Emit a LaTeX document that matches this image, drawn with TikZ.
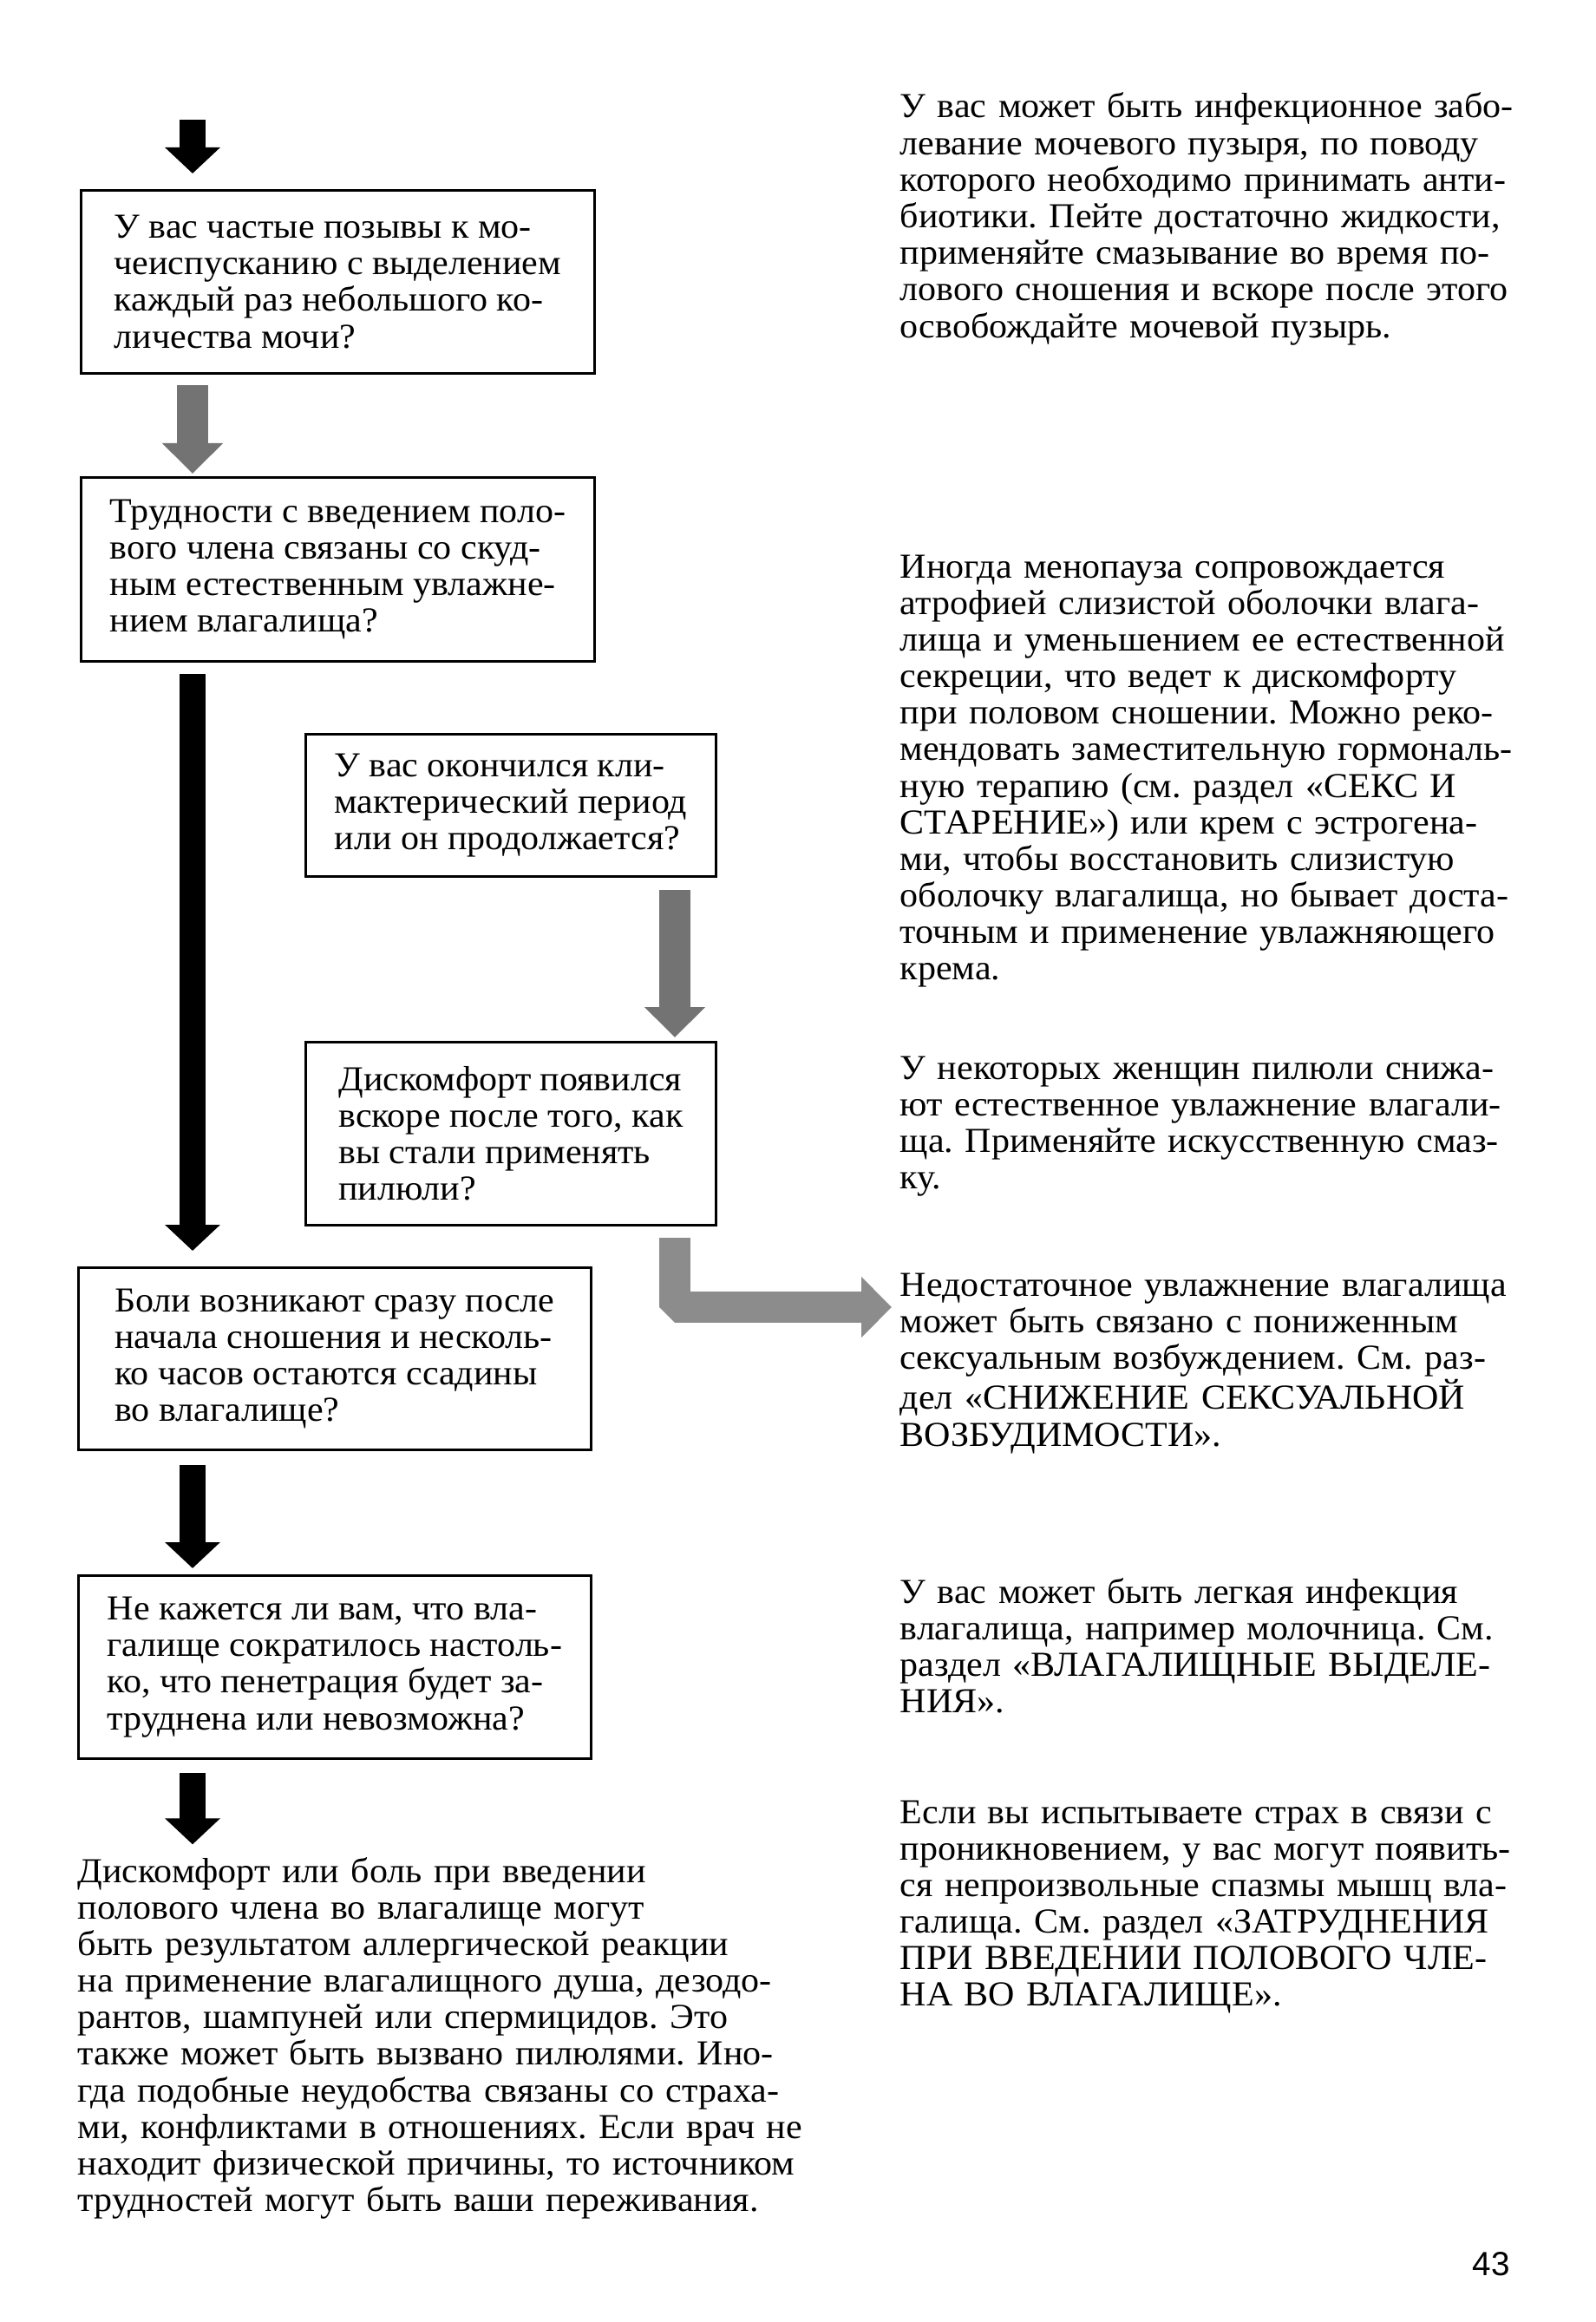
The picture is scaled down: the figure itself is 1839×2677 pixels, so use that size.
\documentclass[tikz,border=0pt]{standalone}
\usepackage{fontspec}
\setmainfont[FakeStretch=1.04]{Liberation Serif}
\newfontfamily\nomerfont{Liberation Sans}
\usepackage{tikz}
\usetikzlibrary{arrows.meta, calc}
\definecolor{seryjtemnyj}{RGB}{115, 115, 115}
\definecolor{seryjsvetlyj}{RGB}{140, 140, 140}
\frenchspacing

\tikzset{
  vopros/.style={draw, line width=0.8pt, anchor=north west, align=left, inner sep=0pt},
  otvet/.style={anchor=base west, inner sep=0pt, align=left, text width=80mm},
  chernaja/.style={line width=3mm, -{Triangle[width=6.2mm, length=3mm]}},
  seraja/.style={draw=seryjtemnyj, line width=3.6mm, -{Triangle[width=6.8mm, length=3.5mm]}},
}

\begin{document}
\begin{tikzpicture}[x=0.1mm, y=-0.1mm, font=\fontsize{11.5pt}{12pt}\selectfont]
  \useasboundingbox (0,0) rectangle (1839,2677);
  % оси стрелок
  \coordinate (os) at (222,0);
  \coordinate (os2) at (778,0);
  \coordinate (start) at (222,138);
  \coordinate (povorot) at (778,1507);

  % вопросы слева
  \node[vopros, minimum width=59.2mm, minimum height=21.1mm] (q1) at (92,218)
    {У вас частые позывы к мо-\\чеиспусканию с выделением\\каждый раз небольшого ко-\\личества мочи?};
  \node[vopros, minimum width=59.2mm, minimum height=21.2mm] (q2) at (92,549)
    {Трудности с введением поло-\\вого члена связаны со скуд-\\ным естественным увлажне-\\нием влагалища?};
  \node[vopros, minimum width=47.3mm, minimum height=16.4mm] (q3) at (351,845)
    {У вас окончился кли-\\мактерический период\\или он продолжается?};
  \node[vopros, minimum width=47.3mm, minimum height=21.1mm] (q4) at (351,1200)
    {Дискомфорт появился\\вскоре после того, как\\вы стали применять\\пилюли?};
  \node[vopros, minimum width=59.1mm, minimum height=21.0mm] (q5) at (89,1460)
    {Боли возникают сразу после\\начала сношения и несколь-\\ко часов остаются ссадины\\во влагалище?};
  \node[vopros, minimum width=59.1mm, minimum height=21.1mm] (q6) at (89,1815)
    {Не кажется ли вам, что вла-\\галище сократилось настоль-\\ко, что пенетрация будет за-\\труднена или невозможна?};
  \node[otvet, text width=95mm] (itog) at (89,2170)
    {Дискомфорт или боль при введении\\полового члена во влагалище могут\\быть результатом аллергической реакции\\на применение влагалищного душа, дезодо-\\рантов, шампуней или спермицидов. Это\\также может быть вызвано пилюлями. Ино-\\гда подобные неудобства связаны со страха-\\ми, конфликтами в отношениях. Если врач не\\находит физической причины, то источником\\трудностей могут быть ваши переживания.};

  % ответы справа
  \node[otvet] (ansA) at (1037,136)
    {У вас может быть инфекционное забо-\\левание мочевого пузыря, по поводу\\которого необходимо принимать анти-\\биотики. Пейте достаточно жидкости,\\применяйте смазывание во время по-\\лового сношения и вскоре после этого\\освобождайте мочевой пузырь.};
  \node[otvet] (ansB) at (1037,666)
    {Иногда менопауза сопровождается\\атрофией слизистой оболочки влага-\\лища и уменьшением ее естественной\\секреции, что ведет к дискомфорту\\при половом сношении. Можно реко-\\мендовать заместительную гормональ-\\ную терапию (см. раздел «СЕКС И\\СТАРЕНИЕ») или крем с эстрогена-\\ми, чтобы восстановить слизистую\\оболочку влагалища, но бывает доста-\\точным и применение увлажняющего\\крема.};
  \node[otvet] (ansC) at (1037,1244)
    {У некоторых женщин пилюли снижа-\\ют естественное увлажнение влагали-\\ща. Применяйте искусственную смаз-\\ку.};
  \node[otvet] (ansD) at (1037,1494)
    {Недостаточное увлажнение влагалища\\может быть связано с пониженным\\сексуальным возбуждением. См. раз-\\дел «СНИЖЕНИЕ СЕКСУАЛЬНОЙ\\ВОЗБУДИМОСТИ».};
  \node[otvet] (ansE) at (1037,1848)
    {У вас может быть легкая инфекция\\влагалища, например молочница. См.\\раздел «ВЛАГАЛИЩНЫЕ ВЫДЕЛЕ-\\НИЯ».};
  \node[otvet] (ansF) at (1037,2102)
    {Если вы испытываете страх в связи с\\проникновением, у вас могут появить-\\ся непроизвольные спазмы мышц вла-\\галища. См. раздел «ЗАТРУДНЕНИЯ\\ПРИ ВВЕДЕНИИ ПОЛОВОГО ЧЛЕ-\\НА ВО ВЛАГАЛИЩЕ».};
  \node[anchor=base west, inner sep=0pt, font=\nomerfont\fontsize{11pt}{12pt}\selectfont] (nomer) at (1697,2623) {43};

  % стрелки
  \draw[chernaja, shorten >=1.8mm] (start) -- (q1.north -| os);
  \draw[seraja, shorten <=1.2mm, shorten >=0.3mm] (q1.south -| os) -- (q2.north -| os);
  \draw[chernaja, shorten <=1.3mm, shorten >=1.8mm] (q2.south -| os) -- (q5.north -| os);
  \draw[seraja, shorten <=1.4mm, shorten >=0.4mm] (q3.south -| os2) -- (q4.north -| os2);
  \draw[seraja, draw=seryjsvetlyj, line join=bevel, shorten <=1.3mm, shorten >=0.9mm]
    (q4.south -| povorot) -- (povorot) -- (povorot -| ansD.west);
  \draw[chernaja, shorten <=1.6mm, shorten >=0.7mm] (q5.south -| os) -- (q6.north -| os);
  \draw[chernaja, shorten <=1.5mm, shorten >=1.4mm] (q6.south -| os) -- (itog.north -| os);
\end{tikzpicture}
\end{document}
